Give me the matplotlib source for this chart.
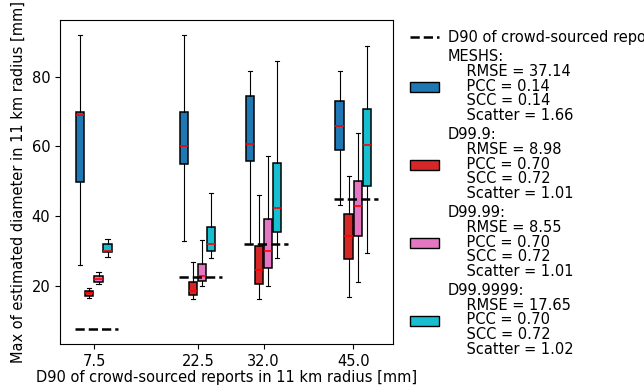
import matplotlib
matplotlib.use("Agg")
import matplotlib.pyplot as plt
import matplotlib.patches as mpatches
from matplotlib.lines import Line2D

# D90 of crowd-sourced reports (x categories)
d90 = [7.5, 22.5, 32.0, 45.0]

names = ["MESHS", "D99.9", "D99.99", "D99.9999"]
colors = ["#1f77b4", "#d62728", "#e377c2", "#17becf"]

# box stats per series: whislo, q1, med, q3, whishi for each d90 class
meshs_lo = [26.0, 32.9, 32.0, 43.1]
meshs_q1 = [49.8, 54.9, 55.9, 58.9]
meshs_med = [68.9, 60.1, 60.7, 65.8]
meshs_q3 = [69.8, 69.8, 74.5, 72.9]
meshs_hi = [91.9, 91.9, 81.7, 81.7]

d999_lo = [16.5, 16.3, 16.3, 16.9]
d999_q1 = [17.1, 17.4, 20.5, 27.7]
d999_med = [17.9, 18.4, 24.4, 34.3]
d999_q3 = [18.6, 21.2, 31.4, 40.5]
d999_hi = [19.3, 26.8, 46.0, 51.5]

d9999_lo = [20.4, 20.0, 20.0, 21.0]
d9999_q1 = [21.1, 21.5, 25.2, 34.4]
d9999_med = [21.9, 22.8, 30.1, 42.8]
d9999_q3 = [22.7, 26.3, 39.1, 50.2]
d9999_hi = [23.9, 33.0, 57.3, 63.9]

d999999_lo = [28.4, 27.9, 27.9, 29.3]
d999999_q1 = [29.6, 30.0, 35.5, 48.6]
d999999_med = [30.1, 32.1, 42.3, 60.3]
d999999_q3 = [31.9, 36.9, 55.2, 70.7]
d999999_hi = [33.5, 46.7, 84.5, 88.9]

rmse = [37.14, 8.98, 8.55, 17.65]
pcc = [0.14, 0.70, 0.70, 0.70]
scc = [0.14, 0.72, 0.72, 0.72]
scatter = [1.66, 1.01, 1.01, 1.02]

series = [
    (meshs_lo, meshs_q1, meshs_med, meshs_q3, meshs_hi),
    (d999_lo, d999_q1, d999_med, d999_q3, d999_hi),
    (d9999_lo, d9999_q1, d9999_med, d9999_q3, d9999_hi),
    (d999999_lo, d999999_q1, d999999_med, d999999_q3, d999999_hi),
]

offsets = [-2.0, -0.7, 0.65, 1.95]

plt.rcParams["font.size"] = 10.5
fig = plt.figure(figsize=(6.44, 3.87), dpi=100)
ax = fig.add_axes([0.093, 0.111, 0.517, 0.837])

for s, (lo, q1, med, q3, hi) in enumerate(series):
    stats = [dict(whislo=lo[i], q1=q1[i], med=med[i], q3=q3[i], whishi=hi[i])
             for i in range(len(d90))]
    pos = [x + offsets[s] for x in d90]
    ax.bxp(stats, positions=pos, widths=1.2, patch_artist=True, showfliers=False,
           manage_ticks=False,
           boxprops=dict(facecolor=colors[s], edgecolor="black", linewidth=1.1),
           medianprops=dict(color="red", linewidth=1.2),
           whiskerprops=dict(color="black", linewidth=0.8),
           capprops=dict(color="black", linewidth=0.8))

for x in d90:
    ax.hlines(x, x - 2.75, x + 3.5, colors="black", linestyles="--", linewidth=1.8, zorder=5)

ax.set_xticks(d90)
ax.set_xticklabels([f"{x:.1f}" for x in d90])
ax.set_yticks([20, 40, 60, 80])
ax.set_xlim(2.56, 50.7)
ax.set_ylim(3.3, 96.2)
ax.set_xlabel("D90 of crowd-sourced reports in 11 km radius [mm]", labelpad=1)
ax.set_ylabel("Max of estimated diameter in 11 km radius [mm]")

handles = [Line2D([], [], color="black", linestyle="--", linewidth=1.8)]
labels = ["D90 of crowd-sourced reports"]
for i, n in enumerate(names):
    handles.append(mpatches.Patch(facecolor=colors[i], edgecolor="black"))
    labels.append(f"{n}:\n    RMSE = {rmse[i]:.2f}\n    PCC = {pcc[i]:.2f}\n"
                  f"    SCC = {scc[i]:.2f}\n    Scatter = {scatter[i]:.2f}")
leg = ax.legend(handles, labels, loc="upper left", bbox_to_anchor=(1.012, 1.01),
                frameon=False, labelspacing=0.3, handletextpad=0.6)
for t in leg.get_texts():
    t.set_linespacing(0.97)

fig.savefig("out.png", dpi=100)
